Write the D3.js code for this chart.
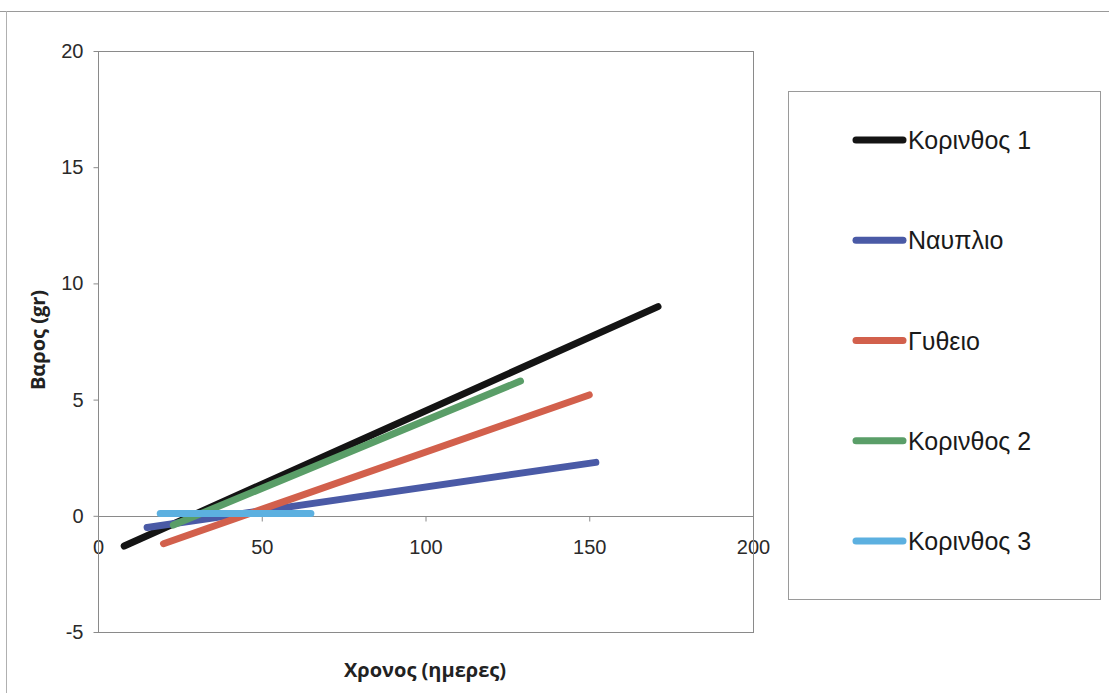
<!DOCTYPE html>
<html>
<head>
<meta charset="utf-8">
<script src="https://cdn.jsdelivr.net/npm/d3@7"></script>
<style>
  html, body { margin: 0; padding: 0; background: #fff; }
  svg { display: block; }
</style>
</head>
<body>
<svg id="chart" width="1109" height="693"></svg>
<script>
// Trend lines of weight over time per site: [start, end] points
const seriesNames = ["Κορινθος 1", "Ναυπλιο", "Γυθειο", "Κορινθος 2", "Κορινθος 3"];
const seriesColors = ["#141414", "#4a5aa6", "#d2604c", "#5a9e68", "#5cb0e0"];
const seriesDays = [[8, 171], [15, 152], [20, 150], [23, 129], [19, 65]];
const seriesWeights = [[-1.3, 9.0], [-0.5, 2.3], [-1.2, 5.2], [-0.4, 5.8], [0.1, 0.1]];

const xTicks = [0, 50, 100, 150, 200];
const yTicks = [-5, 0, 5, 10, 15, 20];

const svg = d3.select("#chart");
const tickFont = "Liberation Sans, Arial, sans-serif";
const titleFont = "Open Sans, DejaVu Sans, sans-serif";

// outer frame of the chart
svg.append("line").attr("x1", 0).attr("x2", 1109).attr("y1", 11.5).attr("y2", 11.5)
  .attr("stroke", "#9a9a9a").attr("stroke-width", 1);
svg.append("line").attr("x1", 6.5).attr("x2", 6.5).attr("y1", 11).attr("y2", 693)
  .attr("stroke", "#b0b0b0").attr("stroke-width", 1);

const plot = { left: 98, top: 51, right: 753, bottom: 632 };

const x = d3.scaleLinear().domain([0, 200]).range([plot.left, plot.right]);
const y = d3.scaleLinear().domain([-5, 20]).range([plot.bottom, plot.top]);

// plot area border
svg.append("rect")
  .attr("x", plot.left + 0.5).attr("y", plot.top + 0.5)
  .attr("width", plot.right - plot.left).attr("height", plot.bottom - plot.top)
  .attr("fill", "none").attr("stroke", "#8a8a8a").attr("stroke-width", 1);

// y axis ticks and labels (plain hyphen for negatives)
const yAxis = d3.axisLeft(y).tickValues(yTicks).tickSize(5).tickPadding(10)
  .tickFormat(d => String(d));
const gy = svg.append("g").attr("transform", `translate(${plot.left + 0.5},0)`).call(yAxis);
gy.select(".domain").remove();
gy.selectAll(".tick line").attr("stroke", "#8a8a8a");
gy.selectAll(".tick text").attr("font-family", tickFont)
  .attr("font-size", 20).attr("fill", "#2a2a2a");

// x axis along the zero line
const xAxis = d3.axisBottom(x).tickValues(xTicks).tickSize(5).tickPadding(18)
  .tickFormat(d => String(d));
const gx = svg.append("g").attr("transform", `translate(0,${Math.round(y(0)) + 0.5})`).call(xAxis);
gx.select(".domain").attr("stroke", "#8a8a8a").attr("d", `M${plot.left},0H${plot.right}`);
gx.selectAll(".tick line").attr("stroke", "#8a8a8a");
gx.selectAll(".tick text").attr("font-family", tickFont)
  .attr("font-size", 20).attr("fill", "#2a2a2a");

// border lines cross over the end labels
svg.append("line").attr("x1", plot.left + 0.5).attr("x2", plot.left + 0.5)
  .attr("y1", plot.top).attr("y2", plot.bottom + 1).attr("stroke", "#8a8a8a");
svg.append("line").attr("x1", plot.right + 0.5).attr("x2", plot.right + 0.5)
  .attr("y1", plot.top).attr("y2", plot.bottom + 1).attr("stroke", "#8a8a8a");

// series lines
const line = d3.line().x(d => x(d[0])).y(d => y(d[1]));
seriesNames.forEach((name, i) => {
  const pts = seriesDays[i].map((d, k) => [d, seriesWeights[i][k]]);
  svg.append("path")
    .attr("d", line(pts))
    .attr("fill", "none")
    .attr("stroke", seriesColors[i])
    .attr("stroke-width", 7)
    .attr("stroke-linecap", "round");
});

// axis titles
svg.append("text")
  .attr("transform", `translate(45,340) rotate(-90)`)
  .attr("text-anchor", "middle")
  .attr("font-family", titleFont)
  .attr("font-weight", "bold").attr("font-size", 20).attr("fill", "#222")
  .text("Βαρος (gr)");

svg.append("text")
  .attr("x", 425).attr("y", 677)
  .attr("text-anchor", "middle")
  .attr("font-family", titleFont)
  .attr("font-weight", "bold").attr("font-size", 20).attr("fill", "#222")
  .text("Χρονος (ημερες)");

// legend
const legend = svg.append("g");
legend.append("rect")
  .attr("x", 788.5).attr("y", 91.5).attr("width", 312).attr("height", 508)
  .attr("fill", "#fff").attr("stroke", "#9a9a9a").attr("stroke-width", 1);

const legendY = d3.scalePoint().domain(seriesNames).range([140, 541]);
seriesNames.forEach((name, i) => {
  const yy = legendY(name);
  legend.append("line")
    .attr("x1", 856).attr("x2", 903).attr("y1", yy).attr("y2", yy)
    .attr("stroke", seriesColors[i]).attr("stroke-width", 7)
    .attr("stroke-linecap", "round");
  legend.append("text")
    .attr("x", 908).attr("y", yy + 9)
    .attr("font-family", tickFont)
    .attr("font-size", 25).attr("fill", "#1a1a1a")
    .text(name);
});
</script>
</body>
</html>
